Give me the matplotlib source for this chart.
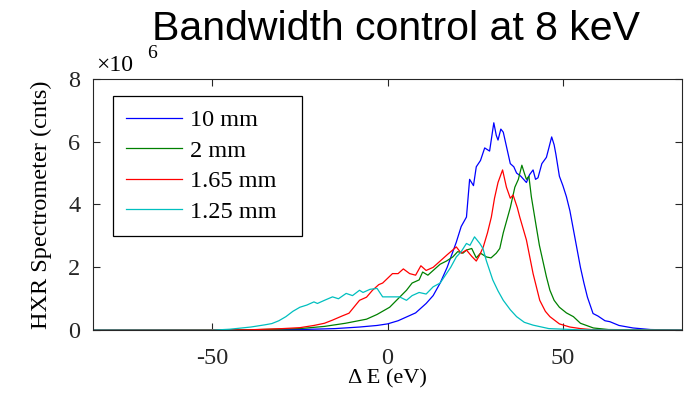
import matplotlib.pyplot as plt

# spectra (x in eV, counts in units of 1e6)
x_10mm = [-84, -40, -25, -15, -8, -3, 0, 3, 6, 8, 11, 13, 15, 17, 19.6, 21, 22.5, 23.4, 24.5, 25.3,
          26.5, 27.7, 29.1, 30.3, 31, 31.5, 32.3, 33, 34, 35, 36, 36.8, 38, 39.6, 40.5, 41.5, 42.2,
          42.9, 44, 45.3, 46, 46.8, 47.5, 48, 49, 50, 51, 52, 53, 54, 55, 56, 57, 58.6, 60, 62,
          63.4, 66, 70, 75, 84]
y_10mm = [0, 0.005, 0.02, 0.05, 0.1, 0.15, 0.2, 0.3, 0.45, 0.55, 0.85, 1.1, 1.5, 2.0, 2.8, 3.3,
          3.6, 4.8, 4.6, 5.2, 5.4, 5.8, 5.7, 6.6, 6.2, 6.05, 6.4, 6.3, 5.8, 5.3, 5.2, 5.0, 4.9,
          4.7, 4.95, 5.1, 4.8, 4.85, 5.3, 5.5, 5.8, 6.15, 5.9, 5.6, 4.9, 4.6, 4.25, 3.8, 3.2, 2.6,
          2.0, 1.5, 1.05, 0.53, 0.45, 0.3, 0.27, 0.15, 0.07, 0.02, 0]

x_2mm = [-84, -40, -25, -18, -12, -6, -3, 0.6, 3, 5.4, 7, 9, 10, 11.5, 13, 15, 16.8, 18.6, 20,
         21.5, 22.5, 24, 25.3, 26.5, 28.2, 29.5, 31, 32, 33, 34, 35, 36.3, 37.3, 38.3, 39, 39.6,
         40.3, 41, 42.4, 43.3, 44.3, 45.3, 46.3, 47.5, 49, 51, 53, 55, 58.7, 63, 84]
y_2mm = [0, 0.01, 0.05, 0.12, 0.22, 0.35, 0.5, 0.73, 1.0, 1.27, 1.5, 1.6, 1.85, 1.75, 1.9, 2.1,
         2.2, 2.33, 2.5, 2.45, 2.55, 2.6, 2.3, 2.45, 2.33, 2.3, 2.45, 2.6, 3.1, 3.5, 3.9, 4.55,
         4.8, 5.25, 5.0, 4.8, 4.9, 4.25, 3.3, 2.7, 2.2, 1.7, 1.27, 0.95, 0.73, 0.55, 0.43, 0.22,
         0.07, 0.02, 0]

x_165mm = [-84, -40, -30, -25, -21, -18, -15.7, -13, -11, -8, -6, -4.3, -2.5, -1.4, 0, 1.4, 3,
           4.5, 6.3, 8, 9.5, 11, 13, 15, 17, 19.6, 21, 22.5, 24, 25.3, 26.3, 27.3, 28.5, 29.6,
           30.5, 31.5, 32.8, 33.9, 35, 35.8, 37, 37.7, 39.6, 41.5, 43.4, 45, 46.3, 49, 52, 55,
           58, 65, 84]
y_165mm = [0, 0.01, 0.05, 0.08, 0.15, 0.22, 0.32, 0.45, 0.54, 0.95, 1.05, 1.27, 1.45, 1.5, 1.65,
           1.8, 1.8, 1.95, 1.8, 1.75, 2.05, 1.9, 2.0, 2.2, 2.4, 2.65, 2.45, 2.55, 2.35, 2.2, 2.4,
           2.65, 3.1, 3.6, 4.2, 4.7, 5.1, 4.55, 4.2, 4.3, 3.9, 3.6, 2.87, 1.8, 0.95, 0.6, 0.43,
           0.2, 0.1, 0.05, 0.02, 0.005, 0]

x_125mm = [-84, -50, -45, -39, -35, -33, -31, -29, -27, -25, -23, -21, -20, -18, -15.7, -14,
           -11.8, -10, -8, -7, -5, -3, -1.4, 0.6, 3.4, 5.4, 7, 9, 11, 13, 15, 16.8, 18, 19.6, 21,
           22.5, 23.5, 24.8, 26.3, 27.2, 28.2, 30, 31.5, 33, 35, 36.8, 39, 41.5, 46, 55, 84]
y_125mm = [0, 0.0, 0.03, 0.1, 0.17, 0.21, 0.3, 0.43, 0.6, 0.73, 0.8, 0.9, 0.85, 0.95, 1.06, 1.0,
           1.17, 1.1, 1.27, 1.2, 1.3, 1.33, 1.06, 1.06, 1.06, 0.95, 1.1, 1.2, 1.15, 1.38, 1.5,
           1.8, 2.0, 2.33, 2.5, 2.76, 2.7, 2.97, 2.76, 2.6, 2.2, 1.6, 1.25, 0.95, 0.65, 0.43,
           0.25, 0.16, 0.05, 0.01, 0]

labels = ['10 mm', '2 mm', '1.65 mm', '1.25 mm']
colors = ['#0000ff', '#008000', '#ff0000', '#00bfbf']

serif = ['Liberation Serif', 'DejaVu Serif']
plt.rcParams['axes.unicode_minus'] = False

fig = plt.figure(figsize=(6.89, 3.94), dpi=100)
ax = fig.add_axes([0.135, 0.162, 0.855, 0.638])

for xs, ys, lab, c in zip([x_10mm, x_2mm, x_165mm, x_125mm],
                          [y_10mm, y_2mm, y_165mm, y_125mm], labels, colors):
    ax.plot(xs, [v * 1e6 for v in ys], color=c, lw=0.9, label=lab)

ax.set_xlim(-84, 84)
ax.set_ylim(0, 8e6)
ax.set_xticks([-50, 0, 50])
ax.set_yticks([0, 2e6, 4e6, 6e6, 8e6])
ax.set_yticklabels(['0', '2', '4', '6', '8'])
ax.tick_params(direction='in', top=True, right=True, length=5, width=0.8,
               labelsize=17.5, colors='#262626')
ax.tick_params(axis='x', pad=13)
ax.tick_params(axis='y', pad=9)
for lbl in ax.get_xticklabels() + ax.get_yticklabels():
    lbl.set_family(serif)
for s in ax.spines.values():
    s.set_color('#262626')
    s.set_linewidth(0.8)

ax.set_xlabel('Δ E (eV)', fontsize=16, family=serif, labelpad=0)
ax.set_ylabel('HXR Spectrometer (cnts)', fontsize=17.5, family=serif, labelpad=12)

ax.text(0.005, 1.01, '×10', transform=ax.transAxes, fontsize=17, family=serif, ha='left', va='bottom')
ax.text(0.092, 1.065, '6', transform=ax.transAxes, fontsize=14, family=serif, ha='left', va='bottom')

leg = ax.legend(loc='upper left', bbox_to_anchor=(0.034, 0.932), borderaxespad=0,
                prop={'family': serif, 'size': 17.5}, fancybox=False, framealpha=1,
                handlelength=2.3, handletextpad=0.3, labelspacing=0.35, borderpad=0.55)
leg.get_frame().set_edgecolor('black')
leg.get_frame().set_linewidth(0.9)
# a little extra room on the right of the legend box, as in the reference
for t in leg.get_texts():
    t.set_text(t.get_text() + '  ')

fig.suptitle('Bandwidth control at 8 keV', fontsize=29.5, family='Liberation Sans', x=0.575, y=0.975)

plt.savefig('out.png', dpi=100)
